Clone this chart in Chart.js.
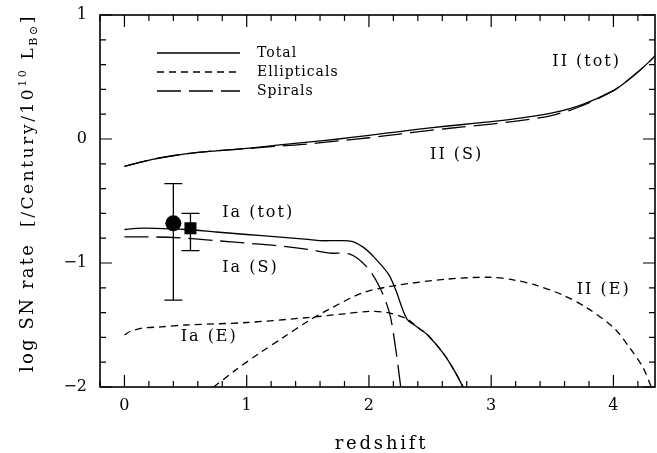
<!DOCTYPE html>
<html>
<head>
<meta charset="utf-8">
<script src="https://cdn.jsdelivr.net/npm/chart.js@4.4.1/dist/chart.umd.min.js"></script>
<style>
  html, body { margin: 0; padding: 0; background: #fff; overflow: hidden; }
  #wrap { width: 657px; height: 453px; }
</style>
</head>
<body>
<div id="wrap"><canvas id="sn"></canvas></div>
<script>
// Curves: redshift vs log SN rate.
const iiTotZ = [0, 0.25, 0.5, 0.75, 1, 1.25, 1.5, 1.75, 2, 2.25, 2.5, 2.75, 3, 3.25, 3.5, 3.75, 4, 4.1, 4.2, 4.3, 4.35];
const iiTotRate = [-0.22, -0.16, -0.12, -0.095, -0.075, -0.05, -0.025, 0.0, 0.03, 0.06, 0.09, 0.115, 0.14, 0.17, 0.21, 0.28, 0.39, 0.46, 0.54, 0.63, 0.68];
const iiSpRate = [-0.22, -0.16, -0.12, -0.095, -0.078, -0.058, -0.04, -0.015, 0.01, 0.04, 0.07, 0.095, 0.12, 0.15, 0.19, 0.27, 0.39, 0.46, 0.54, 0.63, 0.68];

const iiEllZ = [0.73, 0.9, 1.1, 1.3, 1.5, 1.68, 1.95, 2.23, 2.64, 2.99, 3.2, 3.37, 3.59, 3.78, 4.0, 4.13, 4.24, 4.31];
const iiEllRate = [-2.0, -1.87, -1.73, -1.6, -1.47, -1.37, -1.24, -1.18, -1.13, -1.115, -1.14, -1.18, -1.26, -1.36, -1.52, -1.68, -1.84, -2.0];

const iaTotZ = [0, 0.1, 0.25, 0.5, 0.75, 1.0, 1.25, 1.5, 1.6, 1.75, 1.86, 1.95, 2.03, 2.16, 2.22, 2.31, 2.4, 2.48, 2.61, 2.7, 2.77];
const iaTotRate = [-0.73, -0.72, -0.72, -0.73, -0.75, -0.77, -0.79, -0.81, -0.82, -0.82, -0.825, -0.87, -0.94, -1.09, -1.22, -1.45, -1.52, -1.58, -1.73, -1.87, -2.0];

const iaSpZ = [0, 0.25, 0.5, 0.75, 1, 1.25, 1.5, 1.68, 1.85, 1.99, 2.09, 2.17, 2.22, 2.26];
const iaSpRate = [-0.79, -0.79, -0.8, -0.82, -0.84, -0.86, -0.89, -0.92, -0.93, -1.04, -1.2, -1.41, -1.7, -2.0];

const iaEllZ = [0, 0.05, 0.15, 0.3, 0.5, 1.0, 1.5, 1.8, 2.0, 2.15, 2.31, 2.4, 2.48, 2.61, 2.7, 2.77];
const iaEllRate = [-1.58, -1.55, -1.525, -1.515, -1.5, -1.48, -1.44, -1.41, -1.39, -1.40, -1.45, -1.52, -1.58, -1.73, -1.87, -2.0];

// Observed rates with error bars.
const obsZ = [0.40, 0.54];
const obsRate = [-0.68, -0.72];
const obsLow = [-1.30, -0.90];
const obsHigh = [-0.36, -0.60];
const obsStyle = ["circle", "rect"];

const xTicks = [0, 1, 2, 3, 4];
const yTicks = [-2, -1, 0, 1];
const legendNames = ["Total", "Ellipticals", "Spirals"];
const curveNames = ["Ia (tot)", "Ia (S)", "Ia (E)", "II (tot)", "II (S)", "II (E)"];
const curveNameZ = [0.80, 0.80, 0.46, 3.50, 2.50, 3.70];
const curveNameRate = [-0.594, -1.04, -1.594, 0.623, -0.127, -1.22];

const SERIF = "'DejaVu Serif', serif";
const SOLID = [];
const SHORT = [7, 5];
const LONG = [24, 8];
const legendDash = [SOLID, SHORT, LONG];

Chart.defaults.font.family = SERIF;
Chart.defaults.font.size = 16;
Chart.defaults.color = "#000";

function pts(xs, ys) {
    return xs.map((x, i) => ({ x, y: ys[i] }));
}

function curve(xs, ys, dash) {
    return {
        data: pts(xs, ys),
        showLine: true,
        borderColor: "#000",
        borderWidth: 1.3,
        borderDash: dash,
        pointRadius: 0,
        tension: 0.3,
        fill: false,
    };
}

// no extra room for edge labels: the plot box is fixed
function noPad(s) {
    s.paddingTop = 0;
    s.paddingBottom = 0;
    s.paddingLeft = 0;
    s.paddingRight = 0;
}

const frameAndTicks = {
    id: "frameAndTicks",
    afterDraw(chart) {
        const { ctx, chartArea: a, scales: { x, y } } = chart;
        ctx.save();
        ctx.strokeStyle = "#000";
        ctx.lineWidth = 1.2;
        ctx.beginPath();
        for (let i = -1; i <= 22; i++) {
            const v = i / 5;
            if (v < x.min - 1e-6 || v > x.max + 1e-6) continue;
            const px = x.getPixelForValue(v);
            const len = i % 5 === 0 ? 12 : 6;
            ctx.moveTo(px, a.bottom); ctx.lineTo(px, a.bottom - len);
            ctx.moveTo(px, a.top); ctx.lineTo(px, a.top + len);
        }
        for (let i = -10; i <= 5; i++) {
            const v = i / 5;
            const py = y.getPixelForValue(v);
            const len = i % 5 === 0 ? 12 : 6;
            ctx.moveTo(a.left, py); ctx.lineTo(a.left + len, py);
            ctx.moveTo(a.right, py); ctx.lineTo(a.right - len, py);
        }
        ctx.stroke();
        ctx.lineWidth = 1.6;
        ctx.strokeRect(a.left, a.top, a.right - a.left, a.bottom - a.top);
        ctx.restore();
    },
};

const errorBars = {
    id: "errorBars",
    beforeDatasetsDraw(chart) {
        const { ctx, scales: { x, y } } = chart;
        ctx.save();
        ctx.strokeStyle = "#000";
        ctx.lineWidth = 1.3;
        ctx.beginPath();
        obsZ.forEach((z, i) => {
            const px = x.getPixelForValue(z);
            const lo = y.getPixelForValue(obsLow[i]);
            const hi = y.getPixelForValue(obsHigh[i]);
            ctx.moveTo(px, lo); ctx.lineTo(px, hi);
            ctx.moveTo(px - 9, lo); ctx.lineTo(px + 9, lo);
            ctx.moveTo(px - 9, hi); ctx.lineTo(px + 9, hi);
        });
        ctx.stroke();
        ctx.restore();
    },
};

function spacedText(ctx, text, x, y, spacing) {
    ctx.letterSpacing = spacing + "px";
    ctx.fillText(text, x, y);
    ctx.letterSpacing = "0px";
}

// draw pieces along a line so that the run spans `length` px
function fittedRun(ctx, pieces, length) {
    let w0 = 0, n = 0;
    pieces.forEach(p => {
        ctx.font = p.size + "px " + SERIF;
        ctx.letterSpacing = "0px";
        p.w0 = ctx.measureText(p.t).width;
        w0 += p.w0;
        n += p.t.length;
    });
    const sp = Math.max((length - w0) / n, 0);
    let cx = 0;
    pieces.forEach(p => {
        ctx.font = p.size + "px " + SERIF;
        spacedText(ctx, p.t, cx, p.dy, sp);
        cx += p.w0 + sp * p.t.length;
    });
    return cx;
}

const annotations = {
    id: "annotations",
    afterDraw(chart) {
        const { ctx, chartArea: a, scales: { x, y } } = chart;
        ctx.save();
        ctx.fillStyle = "#000";
        ctx.strokeStyle = "#000";

        // curve names
        ctx.font = "16px " + SERIF;
        ctx.textBaseline = "middle";
        ctx.textAlign = "left";
        curveNames.forEach((t, i) => {
            spacedText(ctx, t, x.getPixelForValue(curveNameZ[i]), y.getPixelForValue(curveNameRate[i]), 2);
        });

        // legend
        ctx.font = "14px " + SERIF;
        ctx.lineWidth = 1.3;
        legendNames.forEach((t, i) => {
            const ly = a.top + 38 + i * 19;
            ctx.setLineDash(legendDash[i]);
            ctx.beginPath();
            ctx.moveTo(a.left + 57, ly);
            ctx.lineTo(a.left + 140, ly);
            ctx.stroke();
            ctx.setLineDash([]);
            spacedText(ctx, t, a.left + 157, ly, 1);
        });

        // x title
        ctx.font = "18px " + SERIF;
        ctx.textBaseline = "alphabetic";
        ctx.textAlign = "center";
        spacedText(ctx, "redshift", (a.left + a.right) / 2 + 4, 449, 2.8);

        // y title, read upward from y = 372, super/subscripts drawn smaller
        ctx.textAlign = "left";
        ctx.translate(33, 372);
        ctx.rotate(-Math.PI / 2);
        const head = [{ t: "log SN rate", size: 18, dy: 0 }];
        const unit = [
            { t: "  [/Century/10", size: 17, dy: 0 },
            { t: "10", size: 11, dy: -7 },
            { t: " L", size: 17, dy: 0 },
            { t: "B\u2299", size: 11, dy: 4 },
            { t: "]", size: 17, dy: 0 },
        ];
        const used = fittedRun(ctx, head, 129);
        ctx.translate(used, 0);
        fittedRun(ctx, unit, 229);
        ctx.restore();
    },
};

new Chart(document.getElementById("sn"), {
    type: "scatter",
    data: {
        datasets: [
            curve(iiTotZ, iiTotRate, SOLID),
            curve(iiTotZ, iiSpRate, LONG),
            curve(iiEllZ, iiEllRate, SHORT),
            curve(iaTotZ, iaTotRate, SOLID),
            curve(iaSpZ, iaSpRate, LONG),
            curve(iaEllZ, iaEllRate, SHORT),
            {
                data: pts(obsZ, obsRate),
                pointStyle: obsStyle,
                pointRadius: [8, 8.5],
                backgroundColor: "#000",
                borderColor: "#000",
                borderWidth: 0,
                showLine: false,
            },
        ],
    },
    options: {
        animation: false,
        events: [],
        responsive: true,
        maintainAspectRatio: false,
        layout: { autoPadding: false, padding: { top: 15, right: 2, left: 0, bottom: 0 } },
        plugins: { legend: { display: false }, tooltip: { enabled: false } },
        scales: {
            x: {
                type: "linear",
                min: -0.2,
                max: 4.34,
                afterBuildTicks: s => { s.ticks = xTicks.map(v => ({ value: v })); },
                afterFit: s => { s.height = 66; noPad(s); },
                ticks: { padding: 9, font: { size: 16 }, callback: v => String(v), maxRotation: 0 },
                grid: { display: false, drawTicks: false },
                border: { display: false },
            },
            y: {
                type: "linear",
                min: -2,
                max: 1,
                afterBuildTicks: s => { s.ticks = yTicks.map(v => ({ value: v })); },
                afterFit: s => { s.width = 100; noPad(s); },
                ticks: {
                    padding: 13,
                    font: { size: 16 },
                    callback: v => (v < 0 ? "\u2212" + Math.abs(v) : String(v)),
                },
                grid: { display: false, drawTicks: false },
                border: { display: false },
            },
        },
    },
    plugins: [errorBars, frameAndTicks, annotations],
});
</script>
</body>
</html>
